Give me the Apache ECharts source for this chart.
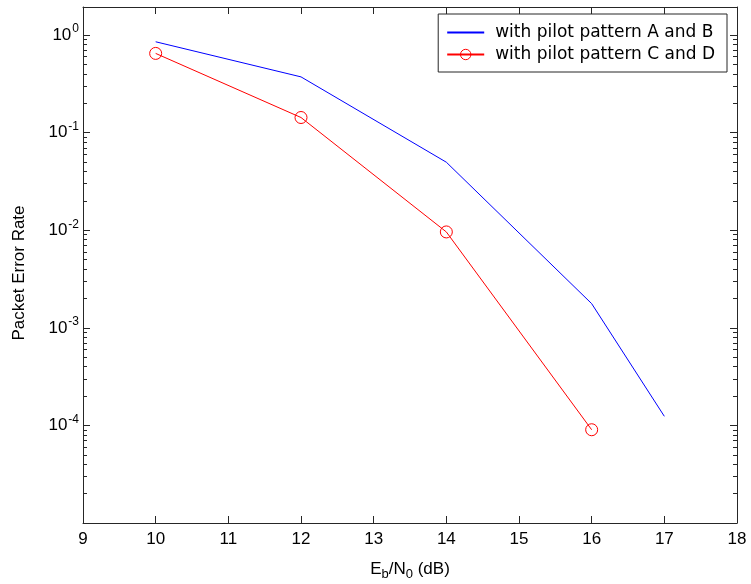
<!DOCTYPE html>
<html><head><meta charset="utf-8">
<script src="https://cdn.jsdelivr.net/npm/echarts@6/dist/echarts.min.js"></script>
<style>html,body{margin:0;padding:0;background:#fff}#c{width:751px;height:584px}</style>
</head><body><div id="c"></div>
<script>
// ---- data ----
const seriesNames = ['with pilot pattern A and B', 'with pilot pattern C and D'];
const xA = [10, 12, 14, 16, 17];
const perA = [0.854, 0.373, 0.0498, 0.00177, 0.000124];
const xC = [10, 12, 14, 16];
const perC = [0.649, 0.143, 0.00961, 0.0000903];
const xTicks = [9, 10, 11, 12, 13, 14, 15, 16, 17, 18];
const yExponents = [0, -1, -2, -3, -4];
const yMin = 1e-5, yMax = 1.94;

const FONT = 'Liberation Sans, Arial, Helvetica, sans-serif';
const LFONT = 'DejaVu Sans, Verdana, sans-serif';
const AX = '#262626';

// minor tick positions (log10 space) for the decoration axes
const minorLog = [];
for (let d = -5; d <= 0; d++) {
  for (let m = 2; m <= 9; m++) {
    const v = m * Math.pow(10, d);
    if (v <= yMax) minorLog.push(Math.log10(v));
  }
}

function yLabel(v) {
  const lg = Math.log10(v);
  const e = Math.round(lg);
  if (Math.abs(lg - e) > 1e-6 || yExponents.indexOf(e) < 0) return '';
  return '{b|10}{e|' + e + '}';
}
const yRich = {
  b: { fontSize: 17, fontFamily: FONT, color: '#000' },
  e: { fontSize: 12, fontFamily: FONT, color: '#000', padding: [0, 0, 12, 1] }
};

const chart = echarts.init(document.getElementById('c'), null, { renderer: 'canvas' });
const baseX = {
  type: 'value', min: xTicks[0], max: xTicks[xTicks.length - 1], interval: 1,
  splitLine: { show: false },
  axisLine: { show: true, onZero: false, lineStyle: { color: AX, width: 1 } },
  axisTick: { show: true, inside: true, length: 7, lineStyle: { color: AX } }
};
const minorY = (pos) => ({
  type: 'value', position: pos, min: Math.log10(yMin), max: Math.log10(yMax),
  axisLine: { show: false }, splitLine: { show: false },
  axisLabel: { show: false },
  axisTick: { show: true, inside: true, length: 4, customValues: minorLog, lineStyle: { color: AX } }
});

chart.setOption({
  animation: false,
  backgroundColor: '#fff',
  grid: { left: 83, right: 14, top: 7, bottom: 61, containLabel: false, outerBoundsMode: 'none' },
  xAxis: [
    Object.assign({}, baseX, {
      position: 'bottom',
      name: '{n|E}{s|b}{n|/N}{s|0}{n| (dB)}',
      nameLocation: 'middle', nameGap: 34,
      nameTextStyle: {
        rich: {
          n: { fontSize: 17, fontFamily: FONT, color: '#000' },
          s: { fontSize: 13, fontFamily: FONT, color: '#000', padding: [11, 0, 0, 0] }
        }
      },
      axisLabel: { show: true, margin: 8, fontSize: 17, fontFamily: FONT, color: '#000',
        formatter: (v) => xTicks.indexOf(v) >= 0 ? String(v) : '' }
    }),
    Object.assign({}, baseX, { position: 'top', axisLabel: { show: false } })
  ],
  yAxis: [
    {
      type: 'log', logBase: 10, min: yMin, max: yMax, position: 'left',
      name: 'Packet Error Rate', nameLocation: 'middle', nameGap: 55,
      nameTextStyle: { fontSize: 17, fontFamily: FONT, color: '#000', padding: [0, 16, 0, 0] },
      splitLine: { show: false },
      axisLine: { show: true, onZero: false, lineStyle: { color: AX, width: 1 } },
      axisTick: { show: true, inside: true, length: 7, lineStyle: { color: AX } },
      axisLabel: { show: true, margin: 4, formatter: yLabel, rich: yRich, showMaxLabel: false, showMinLabel: false }
    },
    {
      type: 'log', logBase: 10, min: yMin, max: yMax, position: 'right',
      splitLine: { show: false },
      axisLine: { show: true, onZero: false, lineStyle: { color: AX, width: 1 } },
      axisTick: { show: true, inside: true, length: 7, lineStyle: { color: AX } },
      axisLabel: { show: false }
    },
    minorY('left'),
    minorY('right')
  ],
  legend: {
    orient: 'vertical', right: 24, top: 14,
    padding: [10, 12, 9, 8], itemGap: 5,
    itemWidth: 37, itemHeight: 13,
    backgroundColor: '#fff', borderColor: AX, borderWidth: 1, borderRadius: 0,
    textStyle: { fontSize: 17, fontFamily: LFONT, color: '#000', padding: [0, 0, 0, 6] },
    data: [
      { name: seriesNames[0], itemStyle: { color: 'rgba(0,0,0,0)', borderWidth: 0 } },
      { name: seriesNames[1], itemStyle: { color: 'rgba(0,0,0,0)', borderColor: '#ff0000', borderWidth: 1 } }
    ]
  },
  series: [
    {
      name: seriesNames[0], type: 'line', xAxisIndex: 0, yAxisIndex: 0,
      data: xA.map((x, i) => [x, perA[i]]),
      symbol: 'none',
      lineStyle: { color: '#0000ff', width: 1 },
      itemStyle: { color: '#0000ff' }
    },
    {
      name: seriesNames[1], type: 'line', xAxisIndex: 0, yAxisIndex: 0,
      data: xC.map((x, i) => [x, perC[i]]),
      symbol: 'circle', symbolSize: 12, showAllSymbol: true,
      lineStyle: { color: '#ff0000', width: 1 },
      itemStyle: { color: 'rgba(0,0,0,0)', borderColor: '#ff0000', borderWidth: 1 }
    }
  ]
});
</script>
</body></html>
